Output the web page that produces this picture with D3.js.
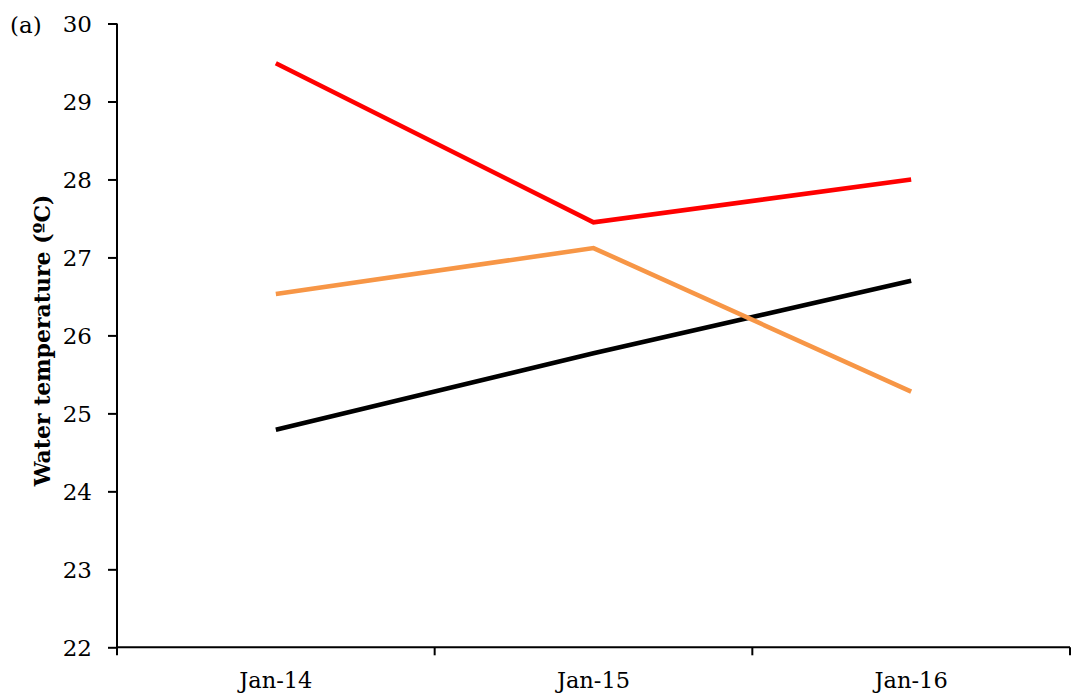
<!DOCTYPE html>
<html><head><meta charset="utf-8">
<script src="https://cdn.jsdelivr.net/npm/d3@7"></script>
<style>body{margin:0;background:#fff}svg{display:block}</style>
</head><body><svg id="c" width="1075" height="698"></svg>
<script>
const categories = ["Jan-14", "Jan-15", "Jan-16"];
const seriesRed = [29.49, 27.45, 28.0];
const seriesOrange = [26.53, 27.12, 25.28];
const seriesBlack = [24.79, 25.77, 26.70];
const yTicks = [22, 23, 24, 25, 26, 27, 28, 29, 30];

const series = [
  {name: "black", values: seriesBlack, color: "#000000"},
  {name: "orange", values: seriesOrange, color: "#F79646"},
  {name: "red", values: seriesRed, color: "#FF0000"}
];

const svg = d3.select("#c");
const mLeft = 117, mRight = 1070, mTop = 23.5, mBottom = 647.3;
const font = "'DejaVu Serif', serif";

const x = d3.scaleBand().domain(categories).range([mLeft, mRight]).padding(0);
const y = d3.scaleLinear().domain([22, 30]).range([mBottom, mTop]);

// y axis
const ya = svg.append("g").attr("transform", `translate(${mLeft},0)`)
  .call(d3.axisLeft(y).tickValues(yTicks).tickSize(9).tickPadding(16).tickFormat(d3.format("d")));
ya.selectAll("path,line").attr("stroke", "#000").attr("stroke-width", 2);
ya.select(".domain").attr("d", `M0,${mTop}V${mBottom}`);
ya.selectAll("text").attr("font-family", font).attr("font-size", 23).attr("fill", "#000").attr("dy", "0.36em");

// x axis
const xa = svg.append("g").attr("transform", `translate(0,${mBottom})`)
  .call(d3.axisBottom(x).tickSize(0).tickPadding(25));
xa.select(".domain").attr("d", `M${mLeft},0H${mRight}`).attr("stroke", "#000").attr("stroke-width", 2);
xa.selectAll("text").attr("font-family", font).attr("font-size", 22.5).attr("fill", "#000");
const bounds = categories.map(c => x(c)).concat([x(categories[categories.length - 1]) + x.bandwidth()]);
xa.selectAll(".bt").data(bounds).enter().append("line")
  .attr("x1", d => d).attr("x2", d => d).attr("y1", 0).attr("y2", 8)
  .attr("stroke", "#000").attr("stroke-width", 2);

// lines
const line = d3.line().x((d, i) => x(categories[i]) + x.bandwidth() / 2).y(d => y(d));
svg.selectAll(".s").data(series).enter().append("path")
  .attr("d", d => line(d.values)).attr("fill", "none")
  .attr("stroke", d => d.color).attr("stroke-width", 4.6).attr("stroke-linejoin", "miter");

// y title
svg.append("text").attr("transform", `translate(50,${(mTop + mBottom) / 2 + 5}) rotate(-90)`)
  .attr("text-anchor", "middle").attr("font-family", font).attr("font-weight", "bold")
  .attr("font-size", 22).attr("fill", "#000").text("Water temperature (ºC)");

// panel label
svg.append("text").attr("x", 10).attr("y", 33).attr("font-family", font)
  .attr("font-size", 23).attr("fill", "#000").text("(a)");
</script></body></html>
